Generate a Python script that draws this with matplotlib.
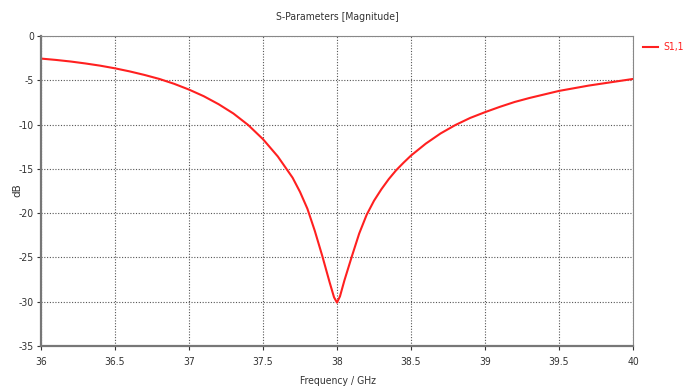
import matplotlib
matplotlib.use("Agg")
import matplotlib.pyplot as plt

freq_ghz = [36.0, 36.1, 36.2, 36.3, 36.4, 36.5, 36.6, 36.7, 36.8, 36.9, 37.0,
            37.1, 37.2, 37.3, 37.4, 37.5, 37.6,
            37.7, 37.75, 37.8, 37.85, 37.9, 37.95, 37.98, 38.0, 38.02, 38.05, 38.1,
            38.15, 38.2, 38.25, 38.3, 38.35, 38.4, 38.45, 38.5, 38.6, 38.7, 38.8,
            38.9, 39.0, 39.1, 39.2, 39.3, 39.4, 39.5, 39.6, 39.7, 39.8, 39.9, 40.0]
s11_db = [-2.55, -2.7, -2.88, -3.1, -3.35, -3.65, -4.0, -4.4, -4.85, -5.4, -6.05,
          -6.8, -7.7, -8.75, -10.05, -11.65, -13.6,
          -16.0, -17.6, -19.5, -22.0, -24.8, -27.8, -29.5, -30.1, -29.4, -27.6, -24.9,
          -22.3, -20.2, -18.6, -17.3, -16.15, -15.15, -14.3, -13.5, -12.15, -11.0, -10.05,
          -9.25, -8.6, -8.0, -7.45, -7.0, -6.6, -6.2, -5.9, -5.6, -5.35, -5.1, -4.85]
xticks = [36, 36.5, 37, 37.5, 38, 38.5, 39, 39.5, 40]
xtick_labels = ["36", "36.5", "37", "37.5", "38", "38.5", "39", "39.5", "40"]
yticks = [0, -5, -10, -15, -20, -25, -30, -35]
ytick_labels = ["0", "-5", "-10", "-15", "-20", "-25", "-30", "-35"]
series_name = "S1,1"

FONT = ["DejaVu Sans"]
plt.rcParams["font.family"] = FONT

fig = plt.figure(figsize=(6.93, 3.89), dpi=100)
ax = fig.add_axes([41/693, 1 - 346/389, (633-41)/693, (346-36)/389])

line, = ax.plot(freq_ghz, s11_db, color="#ff2020", lw=1.5,
                solid_joinstyle="round", solid_capstyle="round")
ax.set_xlim(36, 40)
ax.set_ylim(-35, 0)
ax.set_xticks(xticks)
ax.set_xticklabels(xtick_labels, fontstretch="condensed")
ax.set_yticks(yticks)
ax.set_yticklabels(ytick_labels, fontstretch="condensed")
ax.tick_params(axis="both", labelsize=7.5, colors="#333333", length=3, width=0.8,
               direction="out")
ax.tick_params(axis="x", pad=5)
ax.tick_params(axis="y", pad=2)
ax.grid(True, color="#555555", linestyle=(0, (1, 1.5)), linewidth=0.8)

for side in ["left", "bottom"]:
    ax.spines[side].set_color("#777777")
    ax.spines[side].set_linewidth(1.6)
for side in ["top", "right"]:
    ax.spines[side].set_color("#888888")
    ax.spines[side].set_linewidth(0.8)

fig.text(337/693, 1 - 17/389, "S-Parameters [Magnitude]", ha="center", va="center",
         fontsize=7.5, color="#333333", fontstretch="condensed")
fig.text(338/693, 1 - 381/389, "Frequency / GHz", ha="center", va="center",
         fontsize=7.5, color="#333333", fontstretch="condensed")
fig.text(17/693, 1 - 190/389, "dB", ha="center", va="center", rotation=90,
         fontsize=7.5, color="#333333")

fig.lines.append(plt.Line2D([643/693, 658/693], [1 - 47/389, 1 - 47/389],
                            transform=fig.transFigure, color="#ff2020", lw=1.5))
fig.text(663/693, 1 - 47/389, series_name, ha="left", va="center", fontsize=7.5,
         color="#ff2020", fontstretch="condensed")

fig.savefig("out.png", dpi=100)
